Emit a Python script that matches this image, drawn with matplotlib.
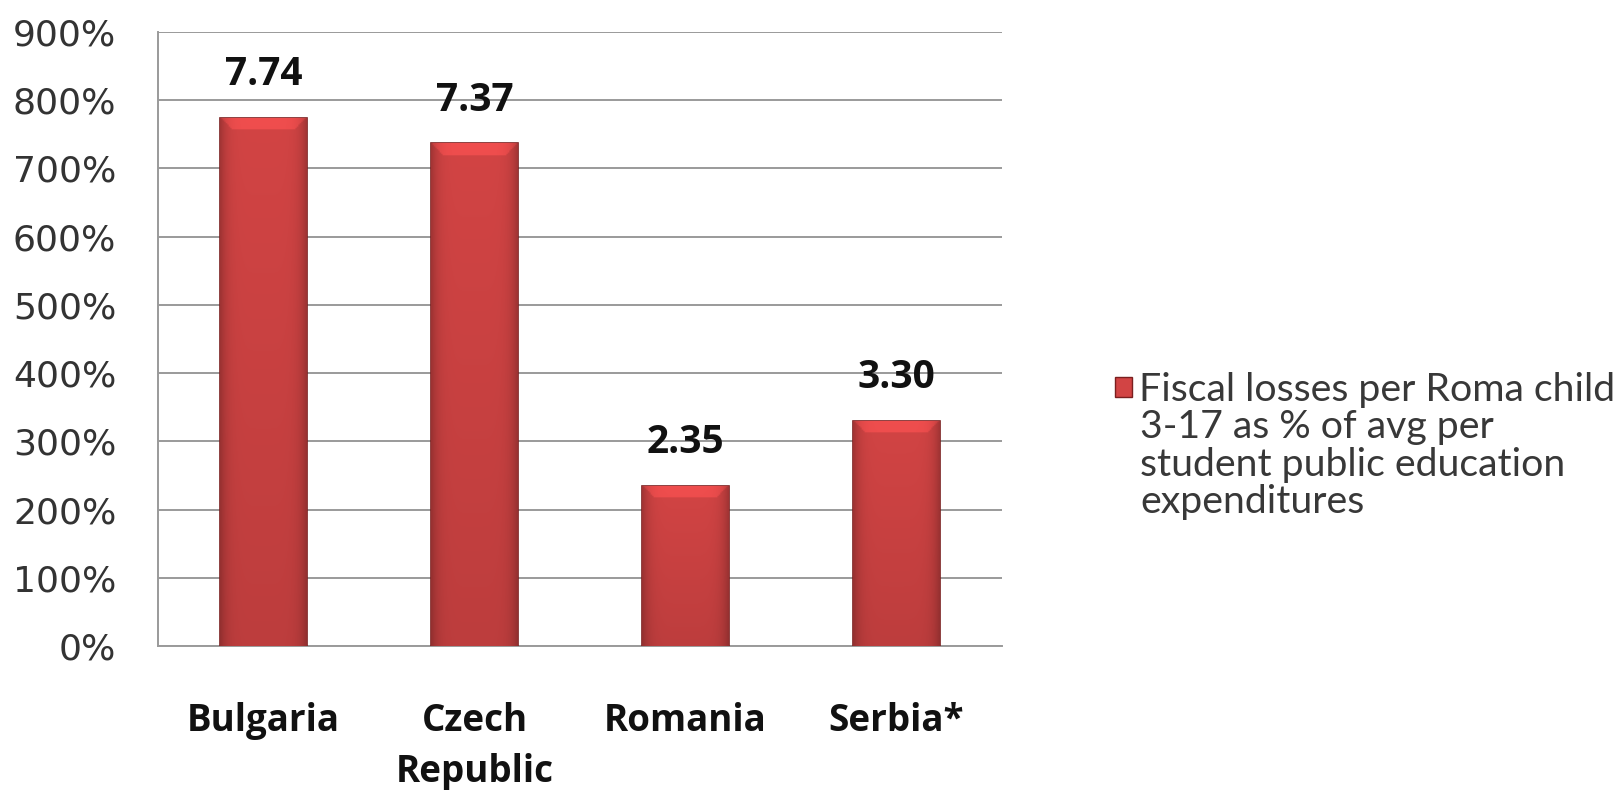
import numpy as np
import matplotlib.pyplot as plt
from matplotlib.patches import Patch
from matplotlib.ticker import FuncFormatter

# Dados do gráfico
paises = ['Bulgaria', 'Czech\nRepublic', 'Romania', 'Serbia*']
perdas = [774, 737, 235, 330]          # em %
rotulos = ['7.74', '7.37', '2.35', '3.30']
legenda = ['Fiscal losses per Roma child', '3-17 as % of avg per',
           'student public education', 'expenditures']

vermelho = np.array([210, 68, 68]) / 255


def textura_barra(altura, nx=60, bisel=18):
    # gradiente simples para imitar o efeito "bisel" do Excel
    ny = max(int(round(altura)), 2)
    yy = np.arange(ny)[:, None] * np.ones((1, nx))
    xx = np.linspace(0, 1, nx)[None, :] * np.ones((ny, 1))
    fator = 1 - 0.22 * (np.abs(xx - 0.5) * 2) ** 6
    fator *= 1 - 0.10 * yy / ny
    d = 0.14 * np.clip(yy / bisel, 0, 1)
    topo = (yy < bisel) & (xx > d) & (xx < 1 - d)
    fator[topo] *= 1.14
    img = np.clip(vermelho[None, None, :] * fator[:, :, None], 0, 1)
    return img


fig = plt.figure(figsize=(16.17, 7.9), dpi=100)
ax = fig.add_axes([0.0977, 0.1823, 0.522, 0.7772])

x = np.arange(len(paises))
barras = ax.bar(x, perdas, width=0.41, color=vermelho, edgecolor='#7A1F1F',
                linewidth=1.2, zorder=3)

for b in barras:
    x0, x1 = b.get_x(), b.get_x() + b.get_width()
    im = ax.imshow(textura_barra(b.get_height()), extent=(x0, x1, 0, b.get_height()),
                   aspect='auto', zorder=3.5, interpolation='bilinear')
    im.set_clip_path(b)

for b, r in zip(barras, rotulos):
    ax.annotate(r, (b.get_x() + b.get_width() / 2, b.get_height()),
                xytext=(0, 17), textcoords='offset points', ha='center',
                va='bottom', fontsize=28, fontweight='bold', color='#111111',
                family='Open Sans')

ax.set_xlim(-0.5, 3.5)
ax.set_ylim(0, 900)
ax.set_yticks(range(0, 901, 100))
ax.yaxis.set_major_formatter(FuncFormatter(lambda v, p: f'{int(v)}%'))
ax.set_xticks(x)
ax.set_xticklabels(paises, fontsize=26.5, fontweight='bold', color='#111111',
                   linespacing=1.45, family='Open Sans')
ax.tick_params(axis='x', length=0, pad=40)
ax.tick_params(axis='y', length=0, pad=30, labelsize=26, labelcolor='#333333')

ax.grid(axis='y', color='#9A9A9A', linewidth=1.4, zorder=0)
for s in ['top', 'right']:
    ax.spines[s].set_visible(False)
for s in ['left', 'bottom']:
    ax.spines[s].set_color('#9A9A9A')
    ax.spines[s].set_linewidth(1.4)

# Legenda: marcador alinhado com a primeira linha, demais linhas como texto
leg = ax.legend(handles=[Patch(facecolor=vermelho, edgecolor='#7A1F1F')],
                labels=[legenda[0]], loc='center left',
                bbox_to_anchor=(0.6896, 0.5063), bbox_transform=fig.transFigure,
                frameon=False, prop={'family': 'Lato', 'size': 28.3},
                handlelength=0.42, handleheight=0.42, handletextpad=0.18,
                borderpad=0, borderaxespad=0)
for t in leg.get_texts():
    t.set_color('#383838')

for i, linha in enumerate(legenda[1:]):
    fig.text(0.7050, 0.4595 - i * 0.0475, linha, family='Lato', fontsize=28.3,
             color='#383838', va='center', ha='left')

fig.savefig('out.png', dpi=100)
